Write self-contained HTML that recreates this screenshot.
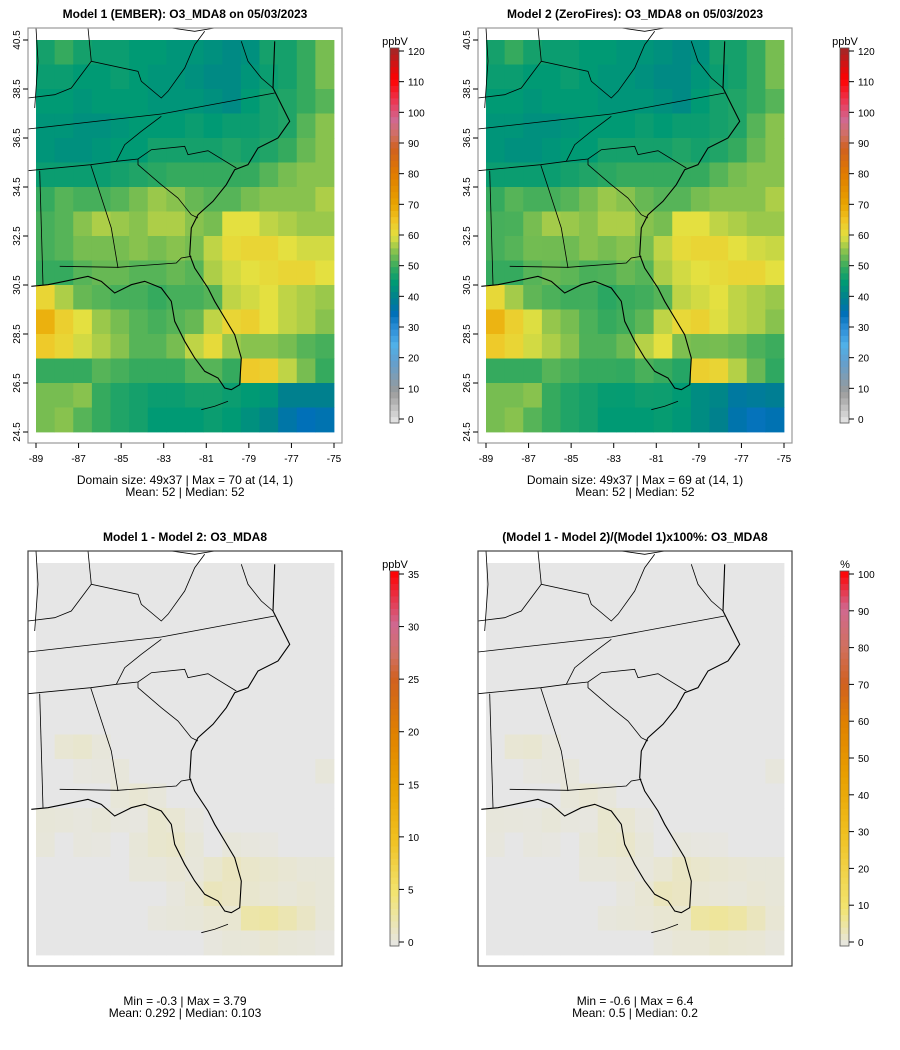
<!DOCTYPE html>
<html><head><meta charset="utf-8">
<style>
body{margin:0;background:#fff;font-family:"Liberation Sans",sans-serif;}
svg text{font-family:"Liberation Sans",sans-serif;}
</style></head>
<body>
<svg id="c" width="900" height="1045" viewBox="0 0 900 1045" xmlns="http://www.w3.org/2000/svg"></svg>
<script>
// Model 1 O3_MDA8 (ppbV), coarse 16x16 grid, row 0 = north
const model1 = [
[47,50,47,46,46,45,45,44,44,43,42,43,47,47,50,54],
[46,46,45,45,46,45,44,44,43,42,42,44,46,47,50,54],
[45,45,44,45,45,45,44,44,44,43,42,45,47,48,50,52],
[44,44,43,43,44,45,45,45,46,45,46,46,47,48,52,55],
[44,43,43,44,45,45,47,47,47,47,48,47,48,50,53,55],
[46,46,46,46,47,48,49,50,50,50,50,50,52,54,55,55],
[50,52,51,51,52,54,56,55,53,52,52,54,55,55,55,57],
[51,52,55,57,56,55,57,57,55,54,60,60,58,57,56,56],
[51,52,54,54,54,55,54,55,54,58,61,62,62,60,59,59],
[50,50,52,53,53,52,52,53,52,57,59,60,61,62,62,60],
[62,57,53,52,51,51,50,51,51,52,58,59,60,58,57,56],
[68,63,60,56,54,52,51,52,53,58,62,63,60,58,57,55],
[64,62,59,57,55,52,52,54,58,61,56,55,55,54,52,51],
[50,50,50,52,51,50,50,50,52,52,50,64,63,58,54,50],
[54,54,55,50,48,47,46,46,47,47,46,45,44,40,40,40],
[54,55,52,50,48,47,45,45,45,46,45,43,41,37,35,36]];
// Model 1 - Model 2 (ppbV)
const diff = [
[0,0,0,0,0,0,0,0,0,0,0,0,0,0,0,0],
[0,0,0,0,0,0,0,0,0,0,0,0,0,0,0,0],
[0,0,0,0,0,0,0,0,0,0,0,0,0,0,0,0],
[0,0,0,0,0,0,0,0,0,0,0,0,0,0,0,0],
[0,0,0,0,0,0,0,0,0,0,0,0,0,0,0,0],
[0,0,0,0,0,0,0,0,0,0,0,0,0,0,0,0],
[0,0,0,0,0,0,0,0,0,0,0,0,0,0,0,0],
[0,0.8,1,0.5,0,0,0,0,0,0,0,0,0,0,0,0],
[0,0,0.3,0.4,0.5,0,0,0,0,0,0,0,0,0,0,0.5],
[0,0,0,0,0.6,0.8,0.5,0,0,0,0,0,0,0,0,0],
[0.6,0.5,0.4,0.6,0.4,0.3,1,0.8,0.3,0,0,0,0,0,0,0],
[0.5,0,0.4,0.3,0,0.6,1,1.2,0.6,0,0.5,0.4,0.3,0,0,0],
[0,0,0,0,0,0.5,0.5,0.7,0.5,1,1.6,1.2,1,0.8,0.6,0.6],
[0,0,0,0,0,0,0,0.4,0.8,1.8,1.5,1,0.8,0.6,0.8,0.6],
[0,0,0,0,0,0,0.4,0.5,0.6,0.8,0.9,2.6,2.8,2.2,1.4,0.6],
[0,0,0,0,0,0,0,0,0,0.4,0.6,0.6,0.8,0.6,0.5,0.3]];
const model2 = model1.map((r,i)=>r.map((v,j)=>v-diff[i][j]));
const pct = model1.map((r,i)=>r.map((v,j)=>diff[i][j]/v*100));
const ticksPpb = [0,10,20,30,40,50,60,70,80,90,100,110,120];
const ticksDiff = [0,5,10,15,20,25,30,35];
const ticksPct = [0,10,20,30,40,50,60,70,80,90,100];
const latTicks = ["40.5","38.5","36.5","34.5","32.5","30.5","28.5","26.5","24.5"];
const lonTicks = ["-89","-87","-85","-83","-81","-79","-77","-75"];

const NS="http://www.w3.org/2000/svg";
const svg=document.getElementById('c');
function el(t,a,p){const e=document.createElementNS(NS,t);for(const k in a)e.setAttribute(k,a[k]);(p||svg).appendChild(e);return e;}
function hex(h){return [parseInt(h.slice(1,3),16),parseInt(h.slice(3,5),16),parseInt(h.slice(5,7),16)];}
function scale(stops){return v=>{if(v<=stops[0][0])return stops[0][1];for(let i=1;i<stops.length;i++){if(v<=stops[i][0]){const a=stops[i-1],b=stops[i],t=(v-a[0])/(b[0]-a[0]);const A=hex(a[1]),B=hex(b[1]);return 'rgb('+A.map((x,k)=>Math.round(x+(B[k]-x)*t)).join(',')+')';}}return stops[stops.length-1][1];};}
const cPpb=scale([[0,'#e8e8e8'],[10,'#9a9a9a'],[20,'#60a0d0'],[25,'#50b0e8'],[30,'#3090d8'],[35,'#0070b8'],[40,'#00808e'],[45,'#009a74'],[50,'#35aa5e'],[55,'#88c24e'],[60,'#e4e040'],[65,'#f0c424'],[70,'#e8a400'],[80,'#e07a00'],[88,'#d06020'],[92,'#d07060'],[97,'#d06890'],[102,'#e84060'],[110,'#ff0000'],[120,'#a02828']]);
const cDiff=scale([[0,'#e6e6e6'],[5,'#f2e470'],[10,'#f0c020'],[15,'#e8a000'],[20,'#e08000'],[25,'#d06020'],[27,'#d07060'],[30,'#d06890'],[35,'#ff0000']]);
const cPct=scale([[0,'#e6e6e6'],[10,'#f2e470'],[30,'#f0c020'],[45,'#e8a000'],[60,'#e08000'],[70,'#d06020'],[80,'#d07060'],[90,'#d06890'],[100,'#ff0000']]);

function toRel(pts){return pts.map(p=>[(p[0]/3-8).toFixed(1),(p[1]/3-12).toFixed(1)].join(',')).join(' ');}
const coast=[[740,40],[735,180],[785,280],[750,330],[690,360],[660,410],[620,425],[595,470],[555,520],[510,560],[490,600],[485,680],[500,720],[540,780],[560,820],[590,870],[620,920],[640,990],[635,1070],[610,1085],[590,1080],[570,1050],[530,1030],[500,990],[470,940],[440,880],[430,820],[400,780],[350,760],[310,770],[260,795],[220,760],[180,745],[110,760],[60,770],[10,775]];
const borders=[
[[0,303],[400,258],[740,195]],
[[0,428],[188,410],[265,400],[330,393],[370,365],[470,355],[480,380],[540,368],[625,420]],
[[330,393],[330,410],[400,470],[450,510],[490,560],[510,570]],
[[188,410],[250,600],[270,720]],
[[95,715],[270,718],[445,705],[460,690],[490,685]],
[[35,428],[45,770]],
[[180,0],[190,100],[330,130],[340,160],[400,210],[420,190],[470,120],[500,50],[530,10]],
[[0,210],[80,200],[130,180],[190,100]],
[[265,400],[290,350],[340,310],[400,265]],
[[640,40],[660,100],[700,150],[735,180]],
[[430,0],[500,10],[560,0]],
[[24,0],[30,100],[20,240]]];
const keys=[[520,1145],[560,1135],[600,1120]];

function panel(ox,oy,grid,col,name,frameCol,axes){
  const g=el('g',{transform:'translate('+ox+','+oy+')'});
  
  
  const W=298,H=392,nr=grid.length,nc=grid[0].length,cw=W/nc,ch=H/nr;
  grid.forEach((r,i)=>r.forEach((v,j)=>{
    const c=el('rect',{x:(j*cw).toFixed(2),y:(i*ch).toFixed(2),width:(cw+0.4).toFixed(2),height:(ch+0.4).toFixed(2),fill:col(v)},g);
    
    
  }));
  const m=el('g',{fill:'none',stroke:'#000','stroke-width':'0.8'},g);
  
  
  el('polyline',{points:toRel(coast),'stroke-width':'1.1'},m);
  borders.forEach(b=>el('polyline',{points:toRel(b)},m));
  el('polyline',{points:toRel(keys)},m);
  // frame
  const f=el('rect',{x:-8,y:-12,width:314,height:415,fill:'none',stroke:frameCol,'stroke-width':1.2},g);
  
  
  if(axes){
    latTicks.forEach((t,i)=>{const y=i*H/(latTicks.length-1);
      el('line',{x1:-8,x2:-13,y1:y,y2:y,stroke:'#000'},g);
      const tx=el('text',{x:-16,y:y,'font-size':10,'text-anchor':'middle',transform:'rotate(-90 -16 '+y+')'},g);tx.textContent=t;
      });
    lonTicks.forEach((t,i)=>{const x=i*W/(lonTicks.length-1);
      el('line',{x1:x,x2:x,y1:403,y2:408,stroke:'#000'},g);
      const tx=el('text',{x:x,y:422,'font-size':10,'text-anchor':'middle'},g);tx.textContent=t;
      });
  }
  return g;
}
function colorbar(x,y0,y1,vmin,vmax,ticks,col,unit,name){
  const g=el('g',{});
  
  
  const n=60,h=(y1-y0);
  for(let i=0;i<n;i++){const v=vmin+(vmax-vmin)*(i+0.5)/n;
    el('rect',{x:x,y:(y1-(i+1)*h/n).toFixed(2),width:9,height:(h/n+0.4).toFixed(2),fill:col(v)},g);}
  el('rect',{x:x,y:y0,width:9,height:h,fill:'none',stroke:'#555','stroke-width':0.8},g);
  const ya=y0+3,yb=y1-4;
  ticks.forEach(t=>{const y=yb-(t-vmin)/(vmax-vmin)*(yb-ya);
    el('line',{x1:x+9,x2:x+14,y1:y,y2:y,stroke:'#000'},g);
    const tx=el('text',{x:x+18,y:y+4,'font-size':10},g);tx.textContent=t;
    });
  const u=el('text',{x:x+5,y:y0-3,'font-size':11,'text-anchor':'middle'},g);u.textContent=unit;
  
}
function txt(x,y,s,size,bold,name){const t=el('text',{x:x,y:y,'font-size':size,'text-anchor':'middle','font-weight':bold?'bold':'normal'});t.textContent=s;
  }

panel(36,40,model1,cPpb,'map-model1','#999',true);
panel(486,40,model2,cPpb,'map-model2','#999',true);
panel(36,563,diff,cDiff,'map-difference','#444',false);
panel(486,563,pct,cPct,'map-percent-difference','#444',false);
colorbar(390,48,423,0,120,ticksPpb,cPpb,'ppbV','colorbar-model1');
colorbar(840,48,423,0,120,ticksPpb,cPpb,'ppbV','colorbar-model2');
colorbar(390,571,946,0,35,ticksDiff,cDiff,'ppbV','colorbar-difference');
colorbar(840,571,946,0,100,ticksPct,cPct,'%','colorbar-percent');

txt(185,18,'Model 1 (EMBER): O3_MDA8 on 05/03/2023',12,true,'title-model1');
txt(635,18,'Model 2 (ZeroFires): O3_MDA8 on 05/03/2023',12,true,'title-model2');
txt(185,541,'Model 1 - Model 2: O3_MDA8',12,true,'title-difference');
txt(635,541,'(Model 1 - Model 2)/(Model 1)x100%: O3_MDA8',12,true,'title-percent');
txt(185,484,'Domain size: 49x37 | Max = 70 at (14, 1)',12,false,'stats-model1-line1');
txt(185,496,'Mean: 52 |  Median: 52',12,false,'stats-model1-line2');
txt(635,484,'Domain size: 49x37 | Max = 69 at (14, 1)',12,false,'stats-model2-line1');
txt(635,496,'Mean: 52 |  Median: 52',12,false,'stats-model2-line2');
txt(185,1005,'Min = -0.3 | Max = 3.79',12,false,'stats-difference-line1');
txt(185,1017,'Mean: 0.292 |  Median: 0.103',12,false,'stats-difference-line2');
txt(635,1005,'Min = -0.6 | Max = 6.4',12,false,'stats-percent-line1');
txt(635,1017,'Mean: 0.5 |  Median: 0.2',12,false,'stats-percent-line2');
</script>
</body></html>
